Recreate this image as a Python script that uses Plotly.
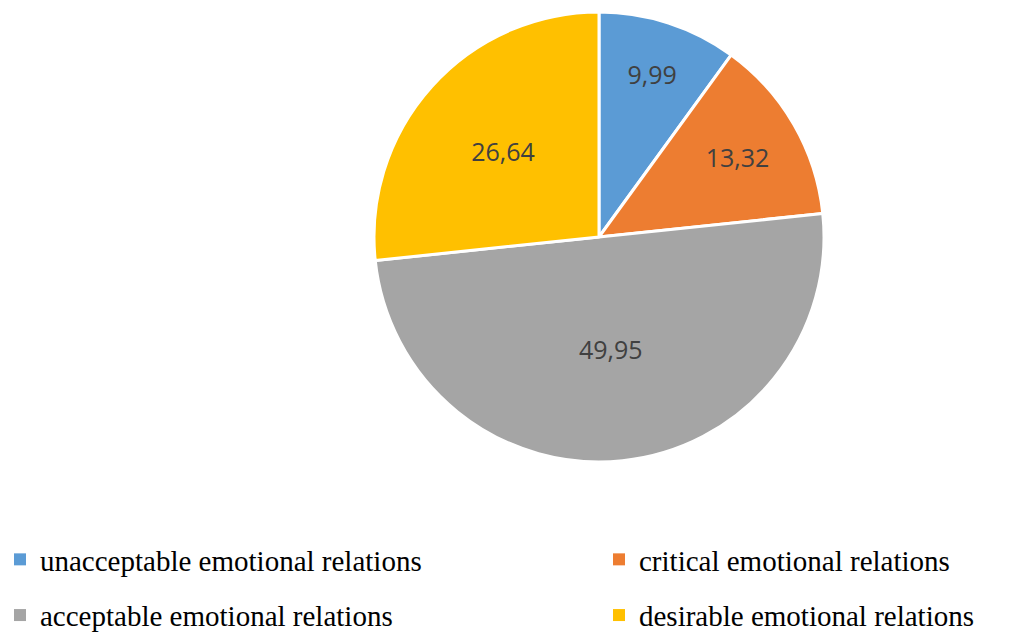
import plotly.graph_objects as go

categories = ["unacceptable emotional relations", "critical emotional relations",
              "acceptable emotional relations", "desirable emotional relations"]
values = [9.99, 13.32, 49.95, 26.64]
colors = ["#5B9BD5", "#ED7D31", "#A5A5A5", "#FFC000"]
legend_column = ["legend", "legend2", "legend", "legend2"]

W, H = 1009, 633
cx, cy, r = 599, 237, 225

fig = go.Figure()
fig.add_trace(go.Pie(
    labels=categories,
    values=values,
    sort=False,
    direction="clockwise",
    rotation=0,
    marker=dict(colors=colors, line=dict(color="white", width=3)),
    texttemplate="%{value:.2f}",
    textposition="inside",
    insidetextorientation="horizontal",
    textfont=dict(family="Open Sans", size=25, color="#404040"),
    hoverinfo="label+value",
    showlegend=False,
    domain=dict(x=[(cx - r) / W, (cx + r) / W], y=[(H - cy - r) / H, (H - cy + r) / H]),
))

# legend entries (two columns, as in the reference)
for name, color, lg in zip(categories, colors, legend_column):
    fig.add_trace(go.Scatter(
        x=[None], y=[None], mode="markers", name=name,
        marker=dict(symbol="square", size=12, color=color),
        legend=lg, legendgroup=name, showlegend=True, hoverinfo="skip",
    ))

legend_common = dict(
    orientation="v",
    yanchor="top",
    y=(H - 534) / H,
    font=dict(family="Liberation Serif", size=29, color="#000000"),
    tracegroupgap=15,
    bgcolor="rgba(0,0,0,0)",
    itemclick=False, itemdoubleclick=False,
)

fig.update_layout(
    width=W, height=H,
    margin=dict(l=0, r=0, t=0, b=0, autoexpand=False),
    paper_bgcolor="white",
    plot_bgcolor="white",
    separators=",.",
    xaxis=dict(visible=False),
    yaxis=dict(visible=False),
    legend=dict(x=0.0, xanchor="left", **legend_common),
    legend2=dict(x=(619 - 20) / W, xanchor="left", **legend_common),
)

fig.write_html("out.html")
